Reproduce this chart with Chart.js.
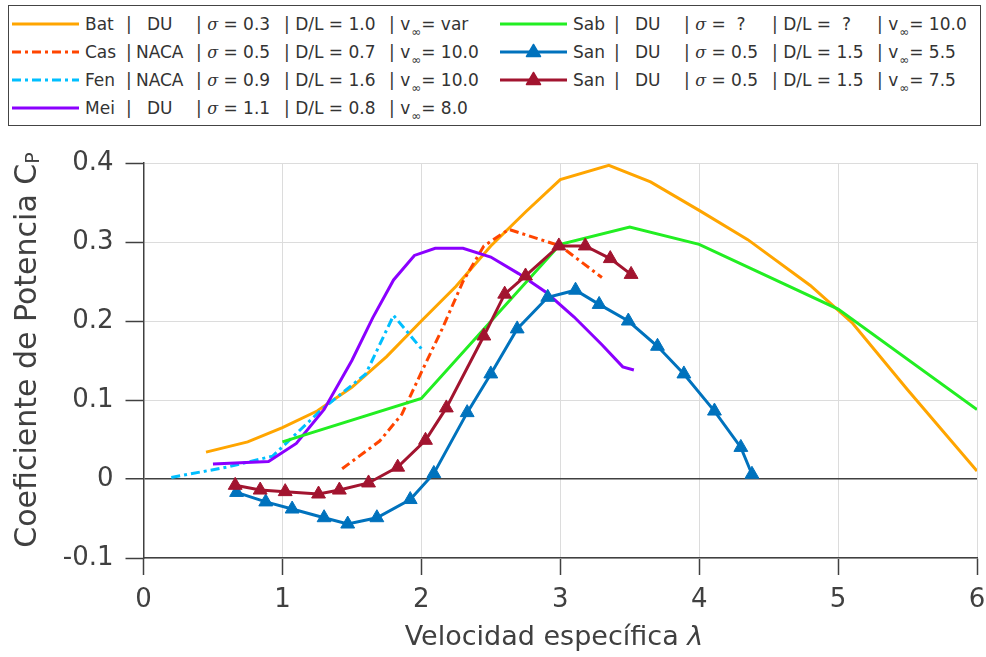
<!DOCTYPE html>
<html>
<head>
<meta charset="utf-8">
<script src="https://cdn.jsdelivr.net/npm/chart.js@4"></script>
<style>
  body { margin: 0; background: #fff; }
  #wrap { position: relative; width: 986px; height: 657px; font-family: 'DejaVu Sans', sans-serif; color: #333; }
  #chart { position: absolute; left: 0; top: 0; }
  #legend { position: absolute; left: 8px; top: 5px; width: 973px; height: 121px; border: 1px solid #444; box-sizing: border-box; background: #fff; }
  .row { position: absolute; height: 28px; display: flex; align-items: center; font-size: 17px; white-space: pre; }
  .row svg { margin-right: 6px; }
  .f1 { display: inline-block; width: 41px; }
  .f2 { display: inline-block; width: 70px; }
  .f2 .in { display: inline-block; width: 56px; text-align: center; }
  .f3 { display: inline-block; width: 88px; }
  .f4 { display: inline-block; width: 105px; }
  .sig { font-family: 'DejaVu Serif', serif; font-style: italic; font-size: 16px; }
  .inf { font-size: 12px; position: relative; top: 6px; margin-left: 1px; }
  .title { position: absolute; color: #404040; text-align: center; white-space: nowrap; }
  .title sub { font-size: 19px; position: relative; top: 3px; vertical-align: baseline; }
</style>
</head>
<body>
<div id="wrap">
  <canvas id="chart" width="986" height="657"></canvas>
  <div id="legend"></div>
  <div class="title" style="left: 254px; top: 620px; width: 600px; font-size: 27px; line-height: 32px;">Velocidad específica <i>λ</i></div>
  <div class="title" style="left: -274px; top: 332px; width: 600px; height: 36px; font-size: 30px; line-height: 36px; transform: rotate(-90deg);">Coeficiente de Potencia C<sub>P</sub></div>
</div>
<script>
// Valeurs (lambda, Cp)
const batX = [0.45, 0.75, 1.0, 1.25, 1.5, 1.75, 2.0, 2.25, 2.5, 2.75, 3.0, 3.35, 3.65, 4.0, 4.35, 4.8, 5.1, 5.5, 6.0];
const batY = [0.034, 0.047, 0.065, 0.086, 0.116, 0.155, 0.2, 0.244, 0.295, 0.338, 0.379, 0.397, 0.376, 0.34, 0.303, 0.245, 0.198, 0.113, 0.01];

const casX = [1.43, 1.7, 1.86, 2.0, 2.15, 2.3, 2.45, 2.63, 3.0, 3.3];
const casY = [0.013, 0.048, 0.082, 0.135, 0.19, 0.25, 0.295, 0.316, 0.295, 0.255];

const fenX = [0.2, 0.6, 0.93, 1.27, 1.6, 1.8, 2.0];
const fenY = [0.002, 0.015, 0.029, 0.086, 0.133, 0.207, 0.165];

const meiX = [0.5, 0.9, 1.1, 1.3, 1.5, 1.65, 1.8, 1.95, 2.1, 2.3, 2.5, 2.7, 2.9, 3.1, 3.3, 3.45, 3.53];
const meiY = [0.019, 0.022, 0.045, 0.088, 0.15, 0.204, 0.252, 0.283, 0.292, 0.292, 0.281, 0.26, 0.236, 0.205, 0.17, 0.142, 0.138];

const sabX = [1.0, 2.0, 3.0, 3.5, 4.0, 5.0, 6.0];
const sabY = [0.047, 0.102, 0.297, 0.319, 0.297, 0.215, 0.088];

const san55X = [0.67, 0.88, 1.07, 1.3, 1.47, 1.68, 1.92, 2.09, 2.33, 2.5, 2.69, 2.91, 3.11, 3.28, 3.49, 3.7, 3.89, 4.11, 4.3, 4.38];
const san55Y = [-0.017, -0.029, -0.038, -0.049, -0.057, -0.049, -0.026, 0.007, 0.084, 0.133, 0.19, 0.23, 0.239, 0.221, 0.2, 0.168, 0.133, 0.086, 0.04, 0.006];

const san75X = [0.66, 0.84, 1.02, 1.26, 1.41, 1.62, 1.83, 2.03, 2.18, 2.45, 2.6, 2.75, 2.99, 3.18, 3.36, 3.51];
const san75Y = [-0.008, -0.014, -0.016, -0.019, -0.014, -0.005, 0.015, 0.049, 0.09, 0.181, 0.234, 0.257, 0.295, 0.295, 0.279, 0.259];

const xTicks = [0, 1, 2, 3, 4, 5, 6];
const yTicks = [-0.1, 0, 0.1, 0.2, 0.3, 0.4];

// Légende : nom, profil, sigma, D/L, v
const legendRows = [
    ['Bat', 'DU', '0.3', '1.0', 'var'],
    ['Cas', 'NACA', '0.5', '0.7', '10.0'],
    ['Fen', 'NACA', '0.9', '1.6', '10.0'],
    ['Mei', 'DU', '1.1', '0.8', '8.0'],
    ['Sab', 'DU', '\u00a0?', '\u00a0?', '10.0'],
    ['San', 'DU', '0.5', '1.5', '5.5'],
    ['San', 'DU', '0.5', '1.5', '7.5']
];

const colors = ['#FFA500', '#FF4500', '#00BFFF', '#8B00FF', '#22EE22', '#0072BD', '#A2142F'];
const dashes = [[], [9, 4, 3, 4], [9, 4, 3, 4], [], [], [], []];

function pts(xs, ys) {
    return xs.map((x, i) => ({ x: x, y: ys[i] }));
}

const series = [[batX, batY], [casX, casY], [fenX, fenY], [meiX, meiY], [sabX, sabY], [san55X, san55Y], [san75X, san75Y]];

const datasets = series.map((s, i) => {
    const marker = i >= 5;
    return {
        label: legendRows[i][0],
        data: pts(s[0], s[1]),
        showLine: true,
        borderColor: colors[i],
        backgroundColor: colors[i],
        borderWidth: 3,
        borderDash: dashes[i],
        pointStyle: 'triangle',
        pointRadius: marker ? 8 : 0,
        pointBorderWidth: 1,
        pointBackgroundColor: colors[i],
        pointBorderColor: colors[i],
        order: 7 - i
    };
});

new Chart(document.getElementById('chart'), {
    type: 'scatter',
    data: { datasets: datasets },
    options: {
        responsive: false,
        animation: false,
        devicePixelRatio: 1,
        layout: { padding: { left: 0, top: 163, right: 6, bottom: 0 } },
        plugins: { legend: { display: false }, tooltip: { enabled: false } },
        scales: {
            x: {
                type: 'linear', min: 0, max: 6,
                afterBuildTicks: (s) => { s.ticks = xTicks.map(v => ({ value: v })); },
                afterFit: (s) => { s.height = 99; s.paddingLeft = 0; s.paddingRight = 0; },
                ticks: { font: { family: 'DejaVu Sans', size: 26 }, color: '#404040', padding: 10, maxRotation: 0 },
                grid: { color: '#dcdcdc', lineWidth: 1, tickColor: '#404040', tickLength: 17, tickWidth: 1.5 },
                border: { color: '#404040', width: 1.5 }
            },
            y: {
                type: 'linear', min: -0.1, max: 0.4,
                afterBuildTicks: (s) => { s.ticks = yTicks.map(v => ({ value: v })); },
                afterFit: (s) => { s.width = 143.5; },
                ticks: {
                    font: { family: 'DejaVu Sans', size: 26 }, color: '#404040', padding: 12,
                    callback: (v) => String(Math.round(v * 10) / 10)
                },
                grid: {
                    color: (c) => (c.tick && Math.abs(c.tick.value) < 1e-9) ? '#404040' : '#dcdcdc',
                    lineWidth: (c) => (c.tick && Math.abs(c.tick.value) < 1e-9) ? 1.5 : 1,
                    tickColor: '#404040', tickLength: 18, tickWidth: 1.5
                },
                border: { color: '#404040', width: 1.5 }
            }
        }
    }
});

// Construction de la légende HTML
const legend = document.getElementById('legend');
legendRows.forEach((r, i) => {
    const col = i < 4 ? 0 : 1;
    const idx = i < 4 ? i : i - 4;
    const row = document.createElement('div');
    row.className = 'row';
    row.style.left = (col === 0 ? 3 : 491) + 'px';
    row.style.top = (3.5 + idx * 28.3) + 'px';
    const dash = dashes[i].length ? ' stroke-dasharray="' + dashes[i].join(' ') + '"' : '';
    let svg = '<svg width="67" height="28"><line x1="0" y1="14" x2="67" y2="14" stroke="' + colors[i] + '" stroke-width="3"' + dash + '/>';
    if (i >= 5) svg += '<polygon points="33.5,6.5 40.5,18.5 26.5,18.5" fill="' + colors[i] + '" stroke="' + colors[i] + '" stroke-width="1.5" stroke-linejoin="round"/>';
    svg += '</svg>';
    row.innerHTML = svg +
        '<span class="f1">' + r[0] + '</span>' +
        '<span class="f2">|<span class="in">' + r[1] + '</span></span>' +
        '<span class="f3">| <span class="sig">σ</span> = ' + r[2] + '</span>' +
        '<span class="f4">| D/L = ' + r[3] + '</span>' +
        '<span>| v<span class="inf">∞</span>= ' + r[4] + '</span>';
    legend.appendChild(row);
});
</script>
</body>
</html>
